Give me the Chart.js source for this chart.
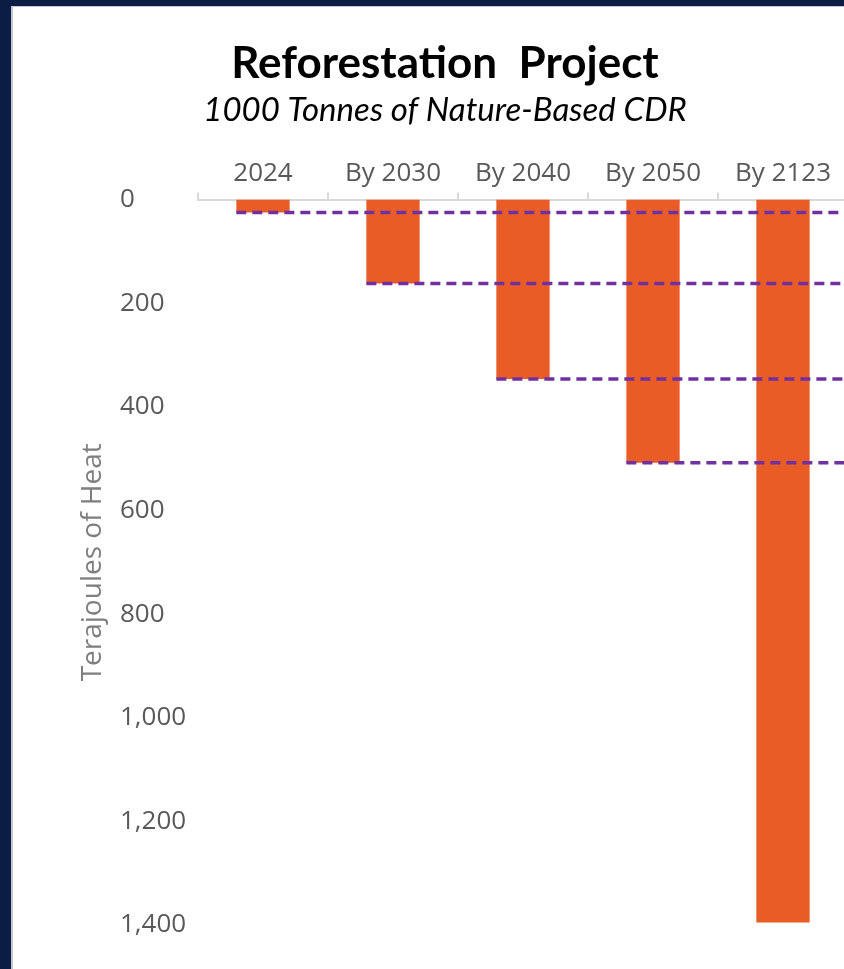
<!DOCTYPE html>
<html>
<head>
<meta charset="utf-8">
<script src="https://cdn.jsdelivr.net/npm/chart.js@4/dist/chart.umd.min.js"></script>
<style>
  html, body { margin: 0; padding: 0; }
  body { background: #0b1d45; width: 844px; height: 969px; overflow: hidden; position: relative; }
  #frame {
    position: absolute; left: 11px; top: 6px;
    border-left: 2px solid #c3c8d4; border-top: 1px solid #c3c8d4;
    background: #fff; width: 870px; height: 962px;
  }
</style>
</head>
<body>
<div id="frame"><canvas id="myChart" width="870" height="962"></canvas></div>
<script>
// data
var years = ['2024', 'By 2030', 'By 2040', 'By 2050', 'By 2123'];
var heatTJ = [25, 162, 346, 508, 1395];
// bars that get a dashed level line running to the right
var levelLines = ['2024', 'By 2030', 'By 2040', 'By 2050'];
var yTicks = [0, 200, 400, 600, 800, 1000, 1200, 1400];

Chart.defaults.font.family = "'Open Sans', sans-serif";
Chart.defaults.color = '#595959';

// dashed purple lines from the bottom of each bar to the right edge
var levelLinePlugin = {
    id: 'levelLines',
    afterDatasetsDraw: function(chart) {
        var meta = chart.getDatasetMeta(0);
        var ctx = chart.ctx;
        ctx.save();
        ctx.strokeStyle = '#7030a0';
        ctx.lineWidth = 3.5;
        ctx.setLineDash([10, 6]);
        years.forEach(function(y, i) {
            if (levelLines.indexOf(y) < 0) return;
            var bar = meta.data[i];
            ctx.beginPath();
            ctx.moveTo(bar.x - bar.width / 2, bar.y);
            ctx.lineTo(chart.width, bar.y);
            ctx.stroke();
        });
        ctx.restore();
    }
};

var ctx = document.getElementById('myChart');
var myChart = new Chart(ctx, {
    type: 'bar',
    data: {
        labels: years,
        datasets: [{
            data: heatTJ,
            backgroundColor: '#e95c26',
            categoryPercentage: 1,
            barPercentage: 0.41
        }]
    },
    plugins: [levelLinePlugin],
    options: {
        responsive: false,
        animation: false,
        layout: {
            padding: { left: 29, right: 35, top: 0, bottom: 44 }
        },
        plugins: {
            legend: { display: false },
            tooltip: { enabled: false },
            title: {
                display: true,
                text: 'Reforestation  Project',
                color: '#000',
                font: { family: 'Lato', size: 44, weight: 'bold' },
                padding: { top: 30, bottom: 0 }
            },
            subtitle: {
                display: true,
                text: '1000 Tonnes of Nature-Based CDR',
                color: '#000',
                font: { family: 'Lato', size: 33, style: 'italic' },
                padding: { top: 1, bottom: 25 }
            }
        },
        scales: {
            x: {
                position: 'top',
                grid: {
                    offset: true,
                    drawOnChartArea: false,
                    drawTicks: true,
                    tickLength: 7,
                    color: '#d9d9d9',
                    lineWidth: 2
                },
                border: { color: '#d9d9d9', width: 2 },
                ticks: { font: { size: 26 }, padding: 3, color: '#595959' }
            },
            y: {
                reverse: true,
                min: 0,
                max: 1400,
                weight: 0,
                afterBuildTicks: function(scale) {
                    scale.ticks = yTicks.map(function(v) { return { value: v }; });
                },
                afterFit: function(scale) { scale.width = 78; },
                grid: { display: false },
                border: { display: false },
                ticks: { crossAlign: 'far', font: { size: 26 }, color: '#595959' }
            },
            yTitle: {
                type: 'linear',
                axis: 'y',
                position: 'left',
                weight: 1,
                afterFit: function(scale) { scale.width = 78; },
                grid: { display: false },
                border: { display: false },
                ticks: { display: false },
                title: {
                    display: true,
                    text: 'Terajoules of Heat',
                    color: '#7f7f7f',
                    font: { size: 28 },
                    padding: { top: 34, bottom: 0 }
                }
            }
        }
    }
});
</script>
</body>
</html>
